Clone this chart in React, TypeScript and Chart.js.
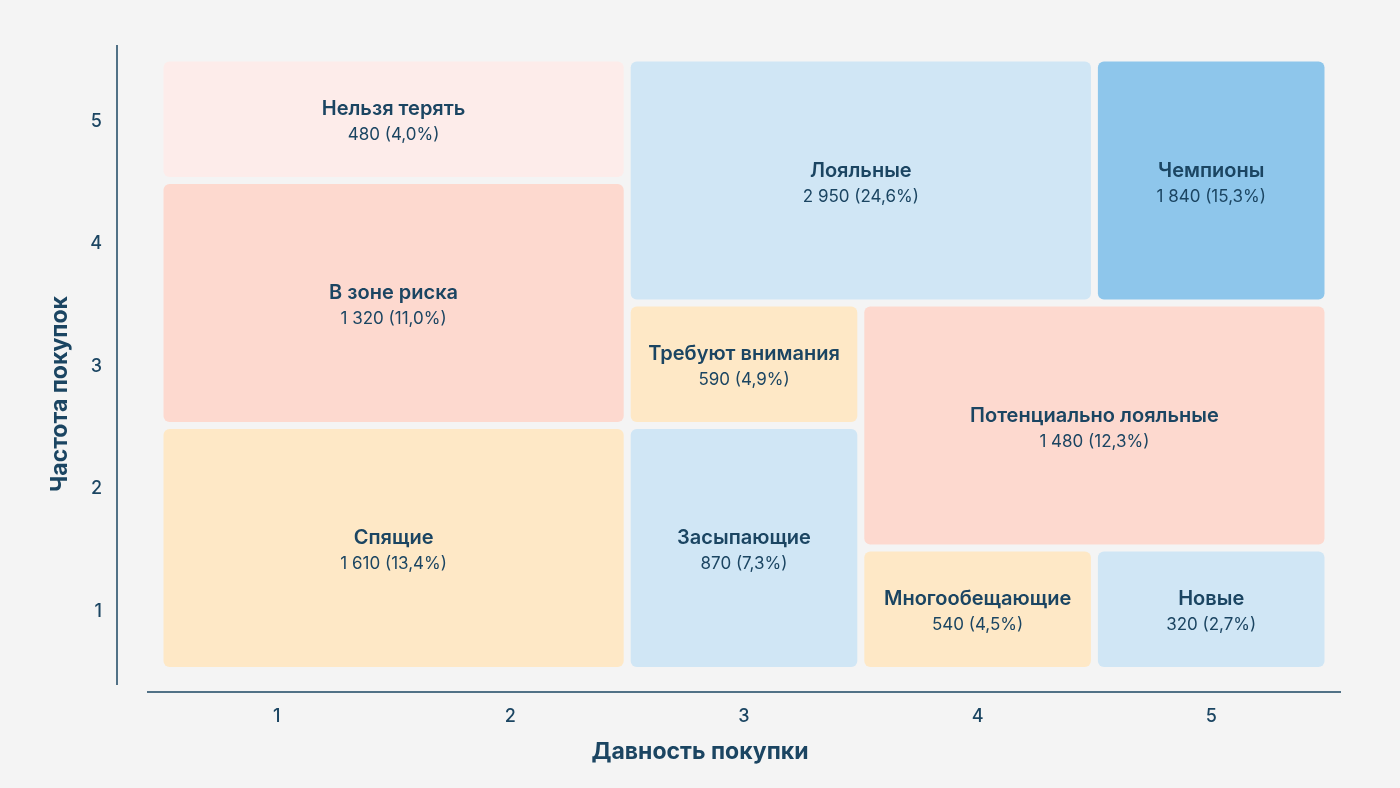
import { useEffect, useRef } from "react";
import { Chart, registerables } from "chart.js";

Chart.register(...registerables);

// RFM segments: recency (x) and frequency (y) score ranges per segment
const segmentNames = [
  "Нельзя терять",
  "В зоне риска",
  "Спящие",
  "Лояльные",
  "Чемпионы",
  "Требуют внимания",
  "Засыпающие",
  "Потенциально лояльные",
  "Многообещающие",
  "Новые",
];
const segmentCounts = [480, 1320, 1610, 2950, 1840, 590, 870, 1480, 540, 320];
const segmentShares = [4.0, 11.0, 13.4, 24.6, 15.3, 4.9, 7.3, 12.3, 4.5, 2.7];
const recencyFrom = [1, 1, 1, 3, 5, 3, 3, 4, 4, 5];
const recencyTo = [2, 2, 2, 4, 5, 3, 3, 5, 4, 5];
const frequencyFrom = [5, 3, 1, 4, 4, 3, 1, 2, 1, 1];
const frequencyTo = [5, 4, 2, 5, 5, 3, 2, 3, 1, 1];
const recencyTicks = ["1", "2", "3", "4", "5"];
const frequencyTicks = ["1", "2", "3", "4", "5"];

const xTitle = "Давность покупки";
const yTitle = "Частота покупок";

// Fill colour per segment
const segmentColors = [
  "#fdecea",
  "#fdd9cf",
  "#fee8c6",
  "#d0e6f5",
  "#8ec6eb",
  "#fee8c6",
  "#d0e6f5",
  "#fdd9cf",
  "#fee8c6",
  "#d0e6f5",
];

const INK = "#1b4562";
const BG = "#f4f4f4";
const FONT = "Inter, 'Noto Sans', sans-serif";

const formatCount = (n: number) =>
  String(n).replace(/\B(?=(\d{3})+(?!\d))/g, " ");
const formatShare = (s: number) => s.toFixed(1).replace(".", ",") + "%";

const segmentRects = {
  id: "segmentRects",
  beforeDatasetsDraw(chart: any) {
    const { ctx, scales } = chart;
    const xs = scales.x;
    const ys = scales.y;
    const inset = 3.5;
    ctx.save();
    segmentNames.forEach((name, i) => {
      const left = xs.getPixelForValue(recencyFrom[i] - 0.5) + inset;
      const right = xs.getPixelForValue(recencyTo[i] + 0.5) - inset;
      const top = ys.getPixelForValue(frequencyTo[i] + 0.5) + inset;
      const bottom = ys.getPixelForValue(frequencyFrom[i] - 0.5) - inset;
      ctx.beginPath();
      ctx.fillStyle = segmentColors[i];
      ctx.roundRect(left, top, right - left, bottom - top, 6);
      ctx.fill();

      const cx = (left + right) / 2;
      const cy = (top + bottom) / 2;
      ctx.fillStyle = INK;
      ctx.textAlign = "center";
      ctx.textBaseline = "middle";
      ctx.font = `600 20px ${FONT}`;
      ctx.fillText(name, cx, cy - 10);
      ctx.font = `400 17px ${FONT}`;
      ctx.fillText(
        `${formatCount(segmentCounts[i])} (${formatShare(segmentShares[i])})`,
        cx,
        cy + 16
      );
    });
    ctx.restore();
  },
};

const axisDecor = {
  id: "axisDecor",
  afterDraw(chart: any) {
    const { ctx, chartArea, width, height } = chart;
    ctx.save();
    ctx.strokeStyle = INK;
    ctx.lineWidth = 1.5;
    ctx.beginPath();
    ctx.moveTo(chartArea.left - 13, chartArea.bottom + 21.5);
    ctx.lineTo(chartArea.right + 13, chartArea.bottom + 21.5);
    ctx.moveTo(chartArea.left - 43, chartArea.top - 13);
    ctx.lineTo(chartArea.left - 43, chartArea.bottom + 14.5);
    ctx.stroke();

    ctx.fillStyle = INK;
    ctx.font = `700 23px ${FONT}`;
    ctx.textAlign = "center";
    ctx.textBaseline = "middle";
    ctx.fillText(xTitle, width / 2, 752);
    ctx.translate(60, height / 2);
    ctx.rotate(-Math.PI / 2);
    ctx.fillText(yTitle, 0, 0);
    ctx.restore();
  },
};

export default function App() {
  const canvasRef = useRef<HTMLCanvasElement | null>(null);

  useEffect(() => {
    document.body.style.margin = "0";
    document.body.style.background = BG;
    const canvas = canvasRef.current;
    if (!canvas) return;

    const chart = new Chart(canvas, {
      type: "scatter",
      data: {
        datasets: [
          {
            label: "segments",
            data: segmentNames.map((_, i) => ({
              x: (recencyFrom[i] + recencyTo[i]) / 2,
              y: (frequencyFrom[i] + frequencyTo[i]) / 2,
            })),
            pointRadius: 0,
            pointHoverRadius: 0,
          },
        ],
      },
      options: {
        animation: false,
        responsive: true,
        maintainAspectRatio: false,
        events: [],
        layout: { padding: { top: 58, right: 72, bottom: 0, left: 0 } },
        plugins: {
          legend: { display: false },
          tooltip: { enabled: false },
        },
        scales: {
          x: {
            type: "linear",
            min: 0.5,
            max: 5.5,
            grid: { display: false, drawTicks: false },
            border: { display: false },
            afterBuildTicks: (scale: any) => {
              scale.ticks = recencyTicks.map((t) => ({ value: Number(t) }));
            },
            afterFit: (scale: any) => {
              scale.height = 117.5;
              scale.paddingLeft = 0;
              scale.paddingRight = 0;
            },
            ticks: {
              padding: 35,
              color: INK,
              font: { family: FONT, size: 18, weight: 500 },
              callback: (v: any) => recencyTicks[Number(v) - 1] ?? "",
            },
          },
          y: {
            type: "linear",
            min: 0.5,
            max: 5.5,
            grid: { display: false, drawTicks: false },
            border: { display: false },
            afterBuildTicks: (scale: any) => {
              scale.ticks = frequencyTicks.map((t) => ({ value: Number(t) }));
            },
            afterFit: (scale: any) => {
              scale.width = 160;
              scale.paddingTop = 0;
              scale.paddingBottom = 0;
            },
            ticks: {
              padding: 58,
              labelOffset: 2,
              color: INK,
              font: { family: FONT, size: 18, weight: 500 },
              callback: (v: any) => frequencyTicks[Number(v) - 1] ?? "",
            },
          },
        },
      },
      plugins: [segmentRects, axisDecor],
    });

    return () => chart.destroy();
  }, []);

  return (
    <div style={{ width: 1400, height: 788, background: BG, position: "relative" }}>
      <canvas ref={canvasRef} />
    </div>
  );
}
